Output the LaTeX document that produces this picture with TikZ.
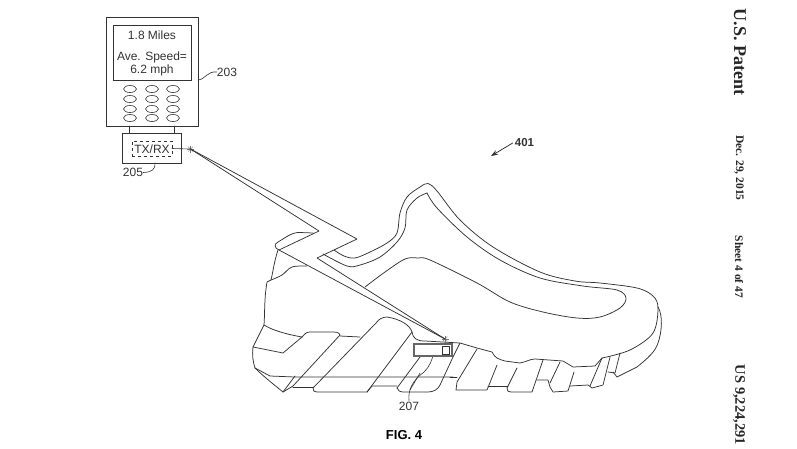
\documentclass[tikz,border=0pt]{standalone}
\usepackage{fontspec}
\setmainfont{Liberation Sans}
\newfontfamily\serifb{Liberation Serif}
\usetikzlibrary{shapes.geometric,arrows.meta}
\definecolor{ink}{gray}{0.2}
\tikzset{
  ln/.style={draw=ink,line width=0.75pt,line join=round,line cap=round},
  thin ln/.style={draw=ink,line width=0.6pt,line cap=round},
  boxn/.style={draw=ink,line width=0.8pt,inner sep=0pt,outer sep=0pt,anchor=north west},
  key/.style={draw=ink,line width=0.6pt,ellipse,minimum width=13pt,minimum height=7pt,inner sep=0pt},
  lab/.style={text=ink,font=\fontsize{12}{14}\selectfont,inner sep=0pt},
  side/.style={text=black!85,rotate=-90,inner sep=0pt,font=\serifb\bfseries},
  spark/.style={draw=black!55,line width=0.35pt},
}
\begin{document}
\begin{tikzpicture}[x=1pt,y=-1pt]
\useasboundingbox (0,0) rectangle (797,448);
\fill[white] (0,0) rectangle (797,448);

% phone
\node[boxn,minimum width=92pt,minimum height=109pt] (phone) at (106,17) {};
\node[boxn,minimum width=78pt,minimum height=55pt] (screen) at (113,25) {};
\node[lab] (miles) at (152,35) {1.8 Miles};
\node[lab] (ave) at (152,57) {Ave. Speed=};
\node[lab] (mph) at (152,70) {6.2 mph};
\foreach \xk/\nx in {130/a,152/b,173/c}
  \foreach \yk/\ny in {89/1,99/2,109/3,118/4}
    \node[key] (k\nx\ny) at (\xk,\yk) {};
% tx box
\node[boxn,minimum width=59pt,minimum height=30pt] (tx) at (122,133.5) {};
\node[boxn,dashed,line width=0.6pt,minimum width=40pt,minimum height=15pt] (rx) at (132,141) {};
\node[lab] (txt) at (152,149) {TX/RX};
\draw[ln] (129,126) -- (129,133.5) (174,126) -- (174,133.5);
\coordinate (ant) at (190.5,149);
\draw[thin ln] (rx.east) -- (ant);
\foreach \a in {0,45,...,315} \draw[spark] (ant) -- ++(\a:3.5);
% labels
\node[lab] (n203) at (227,72) {203};
\draw[thin ln] (phone.east |- 0,80) .. controls (206,79) and (207,71) .. (n203.west);
\node[lab] (n205) at (133,172.5) {205};
\draw[thin ln] (n205.east) .. controls (152,172) and (155,170) .. (155,163);

% heel and tab
\draw[ln] (279,250) .. controls (274,248) and (274,244) .. (278,242) .. controls (285,238) and (292,232) .. (300,232.5) -- (313,233);
\draw[ln] (278,250) .. controls (274,262) and (273,272) .. (271,280) -- (267,282) .. controls (264,300) and (265,312) .. (264,325);
\draw[ln] plot[smooth,tension=0.6] coordinates {(271,280) (282,275) (292,267) (307,266)};

% collar
\draw[ln] plot[smooth,tension=0.55] coordinates {(334,250) (344,256) (355,258) (370,252) (387,243) (397,233) (400,213) (407,197) (420,187) (428,183.5) (437,191) (460,220) (493,247) (540,272) (575,281) (600,283) (637,288) (653,296) (658,308) (653,333) (630,350) (602,358)};
\draw[ln] plot[smooth,tension=0.55] coordinates {(323,254) (347,266) (360,265) (380,257) (397,242) (405,228) (407,210) (417,198) (427,193)};
\draw[ln] plot[smooth,tension=0.55] coordinates {(427,193) (437,208) (467,237) (500,260) (540,278) (583,286) (617,290) (626,298) (620,308) (600,317) (577,318) (543,312) (510,302) (477,283) (430,260) (418,258) (405,259) (385,272) (365,287)};

% sole, left
\draw[ln] (264,325) .. controls (272,330) and (285,334) .. (302,337) -- (283,353) -- (253,347) -- (264,325);
\draw[ln] (253,347) .. controls (252,355) and (253,362) .. (255,368) .. controls (262,375) and (273,384) .. (283,392) -- (293,386) -- (340,335) .. controls (339,332) and (336,332) .. (330,332) -- (310,332) .. controls (306,332) and (305,334) .. (302,337);
\draw[ln] (255,368) -- (270,376) -- (295,377) -- (453,377);
\draw[ln] (283,392) -- (295,376);
\draw[ln] (340,336) -- (360,337);
\draw[ln] (293,387) -- (313,387);
\draw[ln] (313,388) .. controls (313,391) and (314,392) .. (317,392) -- (367,392) -- (412,332) .. controls (410,325) and (400,319) .. (387,317) .. controls (382,317) and (378,320) .. (377,322) -- (313,388);
\draw[ln] (367,392) -- (372,386) -- (397,386);
% block 3 and sensor region
\draw[ln] (397,388) -- (420,357);
\draw[ln] (397,388) .. controls (398,391) and (400,392) .. (404,392) -- (428,392) .. controls (434,392) and (438,389) .. (440,385) -- (453,357) -- (460,343);
\draw[ln] (412,332) .. controls (413,338) and (416,341) .. (425,341) -- (460,343) -- (477,348) -- (492,352) .. controls (495,358) and (498,359) .. (505,361) -- (520,363) .. controls (526,362) and (530,359) .. (535,359) -- (563,361) -- (573,367) -- (595,366) -- (602,358);
% leaders to 207
\node[lab] (n207) at (409,406) {207};
\draw[thin ln] (n207.north) ++(0,-1) .. controls (408,390) and (412,381) .. (424,372) .. controls (430,366) and (432,360) .. (433,355);
\draw[thin ln] (410,390) -- (420,373);
% sensor
\node[boxn,draw=black!60,line width=1.7pt,minimum width=38pt,minimum height=12pt] (sensor) at (414,344) {};
\node[boxn,line width=0.7pt,minimum width=7pt,minimum height=8pt] (chip) at (442,346) {};
\coordinate (sp) at (445,339);
\foreach \a in {0,45,...,315} \draw[spark] (sp) -- ++(\a:3.5);

% bolt
\coordinate (b1) at (357,239); \coordinate (b2) at (317,258);
\coordinate (b3) at (319,231); \coordinate (b4) at (279,250);
\draw[ln] (ant) -- (b1) -- (b2) -- (sp);
\draw[ln] (ant) -- (b3) -- (b4) -- (sp);

% toe sole
\draw[ln] (477,349) -- (457,382) -- (456,390) -- (487,390) -- (497,365);
\draw[ln] (450,377) -- (457,377);
\draw[ln] (488,386) -- (508,386);
\draw[ln] (507,388) -- (517,368);
\draw[ln] (507,388) .. controls (507,391) and (508,392) .. (511,392) -- (532,392) -- (543,360);
\draw[ln] (537,380) -- (548,380) -- (550,387) -- (553,392) -- (568,391) -- (574,372);
\draw[ln] (550,383) -- (560,362);
\draw[ln] (570,386) -- (588,385) -- (592,388) -- (603,385) -- (610,357);
\draw[ln] (590,386) -- (602,358);
\draw[ln] (608,372) -- (615,373) -- (620,353);
\draw[ln] (613,372) -- (617,377) -- (637,367) .. controls (648,358) and (655,352) .. (658,343) .. controls (662,332) and (663,315) .. (658,307);

% 401
\node[lab,font=\bfseries\fontsize{11.5}{13}\selectfont] (n401) at (524.5,143) {401};
\coordinate (a401) at (491,156);
\draw[ln,-{Stealth[length=7pt,width=5pt]}] (n401.west) ++(-2,0) -- (a401);
% caption
\node[lab,text=black,font=\bfseries\fontsize{13}{15}\selectfont] (fig) at (404,435) {FIG. 4};
% side text
\node[side,font=\serifb\bfseries\fontsize{18}{20}\selectfont] (s1) at (740,52) {U.S. Patent};
\node[side,font=\serifb\bfseries\fontsize{11.5}{13}\selectfont] (s2) at (739,168) {Dec. 29, 2015};
\node[side,font=\serifb\bfseries\fontsize{11.5}{13}\selectfont] (s3) at (739,267) {Sheet 4 of 47};
\node[side,font=\serifb\bfseries\fontsize{14.5}{16}\selectfont] (s4) at (739,405) {US 9,224,291};
\end{tikzpicture}
\end{document}
